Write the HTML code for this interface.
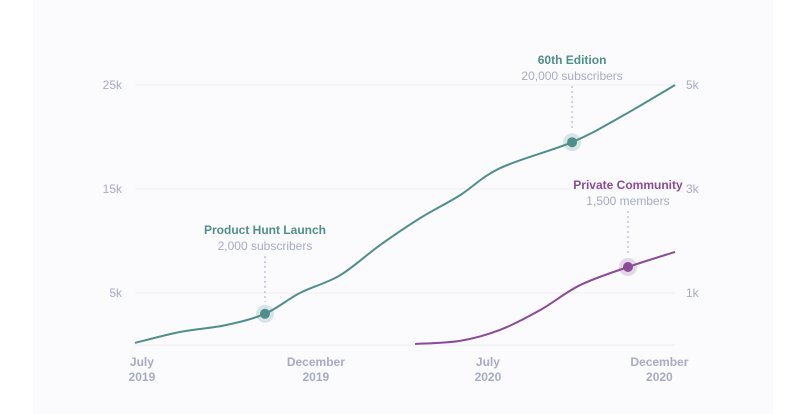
<!DOCTYPE html>
<html><head><meta charset="utf-8"><style>
html,body{margin:0;padding:0;background:#fff;}
svg{display:block;font-family:"Liberation Sans",sans-serif;}
</style></head><body>
<svg id="chart" width="800" height="414">
<rect x="33" y="0" width="740" height="414" fill="#fbfafd"/>
<g id="grid"></g><g id="axes"></g><g id="lines"></g><g id="ann"></g>
</svg>
<script>
const teal="#4f8f8b", purple="#8a4c96", gray="#a9abc6";
const subMonths=[0,1.43,2.87,4.14,5.25,6.53,7.8,9.08,10.35,11.62,13.92,15.45,17.2];
const subValues=[200,1250,1900,3000,5000,6700,9600,12200,14400,17000,19500,21900,25000];
const comMonths=[8.92,10.35,11.62,12.9,14.17,15.7,17.2];
const comValues=[20,80,290,670,1150,1500,1790];
const leftTicks=[5000,15000,25000];
const leftLabels=["5k","15k","25k"];
const rightTicks=[1000,3000,5000];
const rightLabels=["1k","3k","5k"];
const xTicks=[0.22,5.76,11.24,16.7];
const xMonthLabels=["July","December","July","December"];
const xYearLabels=["2019","2019","2020","2020"];
const x=m=>135+m*31.4;
const yL=v=>345-v*0.0104;
const yR=v=>345-v*0.052;
const NS="http://www.w3.org/2000/svg";
function mk(tag,attrs,parent,text){const e=document.createElementNS(NS,tag);for(const k in attrs)e.setAttribute(k,attrs[k]);if(text!=null)e.textContent=text;document.getElementById(parent).appendChild(e);return e;}
leftTicks.forEach((v,i)=>{
  const g=mk("line",{x1:135,x2:675,y1:yL(v),y2:yL(v),stroke:"#eeeef5","stroke-width":1},"grid");
  
  
  const t=mk("text",{x:122,y:yL(v)+4,"text-anchor":"end",fill:gray,"font-size":12},"axes",leftLabels[i]);
  
  
});
const b=mk("line",{x1:135,x2:675,y1:345,y2:345,stroke:"#eeeef5","stroke-width":1},"grid");


rightTicks.forEach((v,i)=>{
  const t=mk("text",{x:686,y:yR(v)+4,fill:gray,"font-size":12},"axes",rightLabels[i]);
  
  
});
xTicks.forEach((m,i)=>{
  const t=mk("text",{x:x(m),y:366,"text-anchor":"middle",fill:gray,"font-size":12,"font-weight":"bold"},"axes",xMonthLabels[i]);
  
  
  const t2=mk("text",{x:x(m),y:381,"text-anchor":"middle",fill:gray,"font-size":12,"font-weight":"bold"},"axes",xYearLabels[i]);
  
  
});
function smooth(pts){let d="M"+pts[0][0]+","+pts[0][1];for(let i=0;i<pts.length-1;i++){const p0=pts[i-1]||pts[i],p1=pts[i],p2=pts[i+1],p3=pts[i+2]||p2;const c1=[p1[0]+(p2[0]-p0[0])/6,p1[1]+(p2[1]-p0[1])/6],c2=[p2[0]-(p3[0]-p1[0])/6,p2[1]-(p3[1]-p1[1])/6];d+=` C${c1[0]},${c1[1]} ${c2[0]},${c2[1]} ${p2[0]},${p2[1]}`;}return d;}
const sp=subMonths.map((m,i)=>[x(m),yL(subValues[i])]);
const cp=comMonths.map((m,i)=>[x(m),yR(comValues[i])]);
const l1=mk("path",{d:smooth(sp),fill:"none",stroke:teal,"stroke-width":2},"lines");


const l2=mk("path",{d:smooth(cp),fill:"none",stroke:purple,"stroke-width":2},"lines");


function annot(px,py,color,title,sub,name,lineTop){
  const h=mk("circle",{cx:px,cy:py,r:9,fill:color,opacity:0.2},"ann");
  
  
  const c=mk("circle",{cx:px,cy:py,r:5,fill:color},"ann");
  
  
  const l=mk("line",{x1:px,x2:px,y1:lineTop,y2:py-12,stroke:gray,"stroke-dasharray":"2,3","stroke-width":1},"ann");
  
  
  const t=mk("text",{x:px,y:lineTop-22,"text-anchor":"middle",fill:color,"font-size":12,"font-weight":"bold"},"ann",title);
  
  
  const s=mk("text",{x:px,y:lineTop-6,"text-anchor":"middle",fill:gray,"font-size":12},"ann",sub);
  
  
}
annot(sp[3][0],sp[3][1],teal,"Product Hunt Launch","2,000 subscribers","product-hunt-annotation",256);
annot(sp[10][0],sp[10][1],teal,"60th Edition","20,000 subscribers","sixtieth-edition-annotation",86);
annot(cp[5][0],cp[5][1],purple,"Private Community","1,500 members","private-community-annotation",211);
</script>
</body></html>
